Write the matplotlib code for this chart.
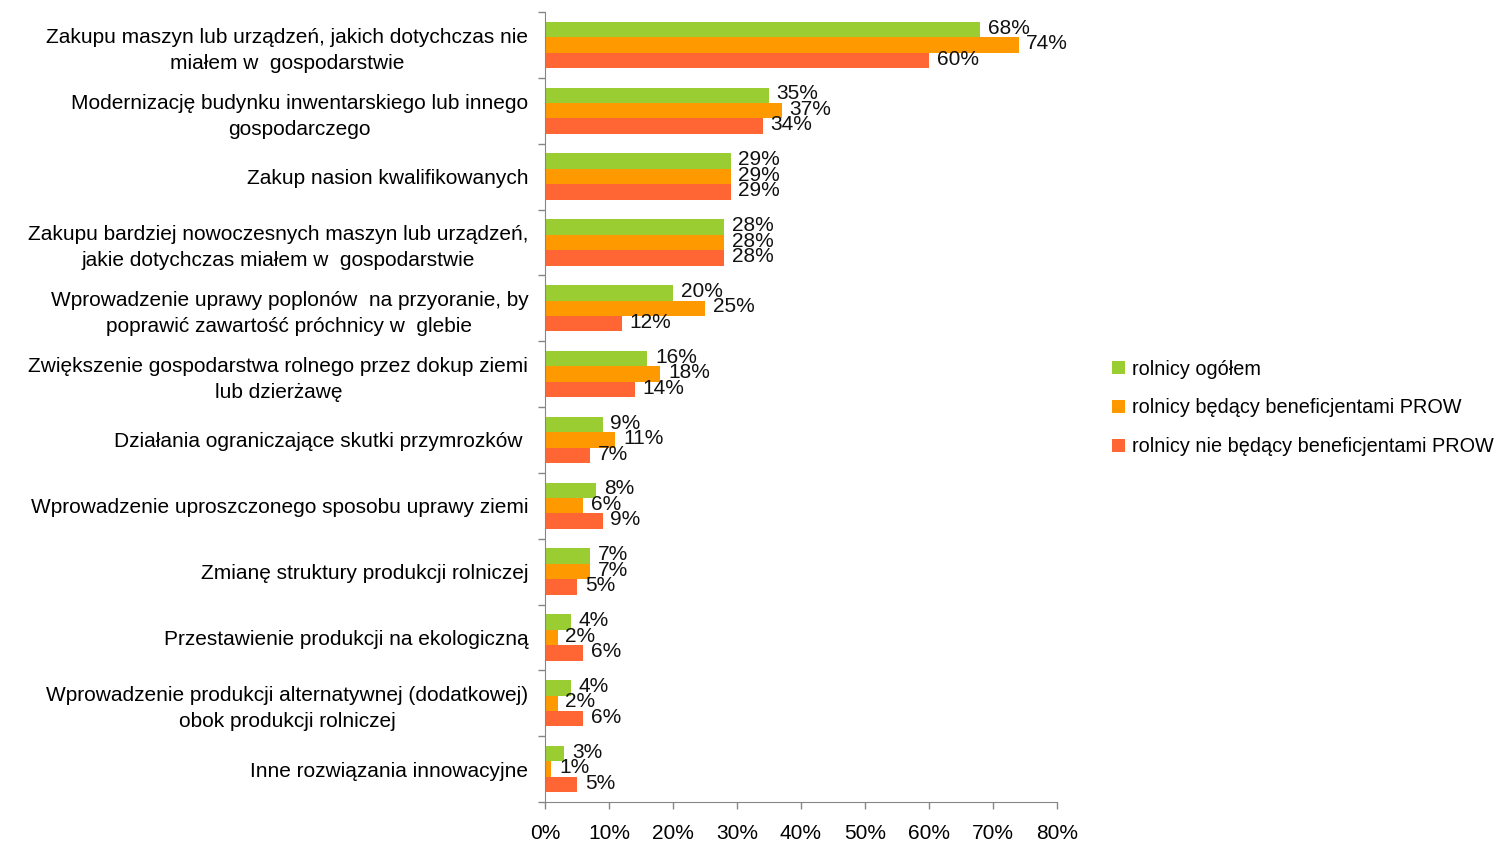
import numpy as np
import matplotlib
matplotlib.use("Agg")
import matplotlib.pyplot as plt

plt.rcParams["font.family"] = ["Liberation Sans", "DejaVu Sans"]

categories = [
    "Zakupu maszyn lub urządzeń, jakich dotychczas nie\nmiałem w  gospodarstwie",
    "Modernizację budynku inwentarskiego lub innego\ngospodarczego",
    "Zakup nasion kwalifikowanych",
    "Zakupu bardziej nowoczesnych maszyn lub urządzeń,\njakie dotychczas miałem w  gospodarstwie",
    "Wprowadzenie uprawy poplonów  na przyoranie, by\npoprawić zawartość próchnicy w  glebie",
    "Zwiększenie gospodarstwa rolnego przez dokup ziemi\nlub dzierżawę",
    "Działania ograniczające skutki przymrozków ",
    "Wprowadzenie uproszczonego sposobu uprawy ziemi",
    "Zmianę struktury produkcji rolniczej",
    "Przestawienie produkcji na ekologiczną",
    "Wprowadzenie produkcji alternatywnej (dodatkowej)\nobok produkcji rolniczej",
    "Inne rozwiązania innowacyjne",
]

ogolem = [68, 35, 29, 28, 20, 16, 9, 8, 7, 4, 4, 3]
beneficjenci = [74, 37, 29, 28, 25, 18, 11, 6, 7, 2, 2, 1]
nie_beneficjenci = [60, 34, 29, 28, 12, 14, 7, 9, 5, 6, 6, 5]

series_names = [
    "rolnicy ogółem",
    "rolnicy będący beneficjentami PROW",
    "rolnicy nie będący beneficjentami PROW",
]
colors = ["#9ACD32", "#FF9900", "#FF6633"]

fig = plt.figure(figsize=(15.12, 8.41), dpi=100)
ax = fig.add_axes([545 / 1512, 1 - 802 / 841, (1057 - 545) / 1512, (802 - 12) / 841])

y = np.arange(len(categories))
h = 0.235
axis_color = "#868686"
fs = 15

for i, (vals, name, col) in enumerate(zip([ogolem, beneficjenci, nie_beneficjenci], series_names, colors)):
    pos = y + (i - 1) * h
    ax.barh(pos, vals, height=h, color=col, label=name)
    for p, v in zip(pos, vals):
        ax.text(v + 1.2, p - 0.02, f"{v}%", va="center", ha="left", fontsize=fs, color="#111111")

ax.set_xlim(0, 80)
ax.set_ylim(len(categories) - 0.5, -0.5)

ax.set_xticks(np.arange(0, 81, 10))
ax.set_xticklabels([f"{t}%" for t in range(0, 81, 10)], fontsize=fs)
ax.tick_params(axis="x", direction="out", length=5, width=1, color=axis_color, pad=11)

ax.set_yticks(y)
ax.set_yticklabels(categories, fontsize=fs, multialignment="center", linespacing=1.45)
ax.tick_params(axis="y", which="major", length=0, pad=12)
ax.set_yticks(np.arange(-0.5, len(categories) + 0.5, 1), minor=True)
ax.tick_params(axis="y", which="minor", direction="out", length=5, width=1, color=axis_color)

for s in ["top", "right"]:
    ax.spines[s].set_visible(False)
for s in ["left", "bottom"]:
    ax.spines[s].set_color(axis_color)

fig.legend(
    loc="center left",
    bbox_to_anchor=(1094 / 1512, 1 - 408 / 841),
    frameon=False,
    fontsize=14.3,
    handlelength=0.65,
    handleheight=0.65,
    handletextpad=0.35,
    labelspacing=1.0,
)

fig.savefig("out.png", dpi=100)
